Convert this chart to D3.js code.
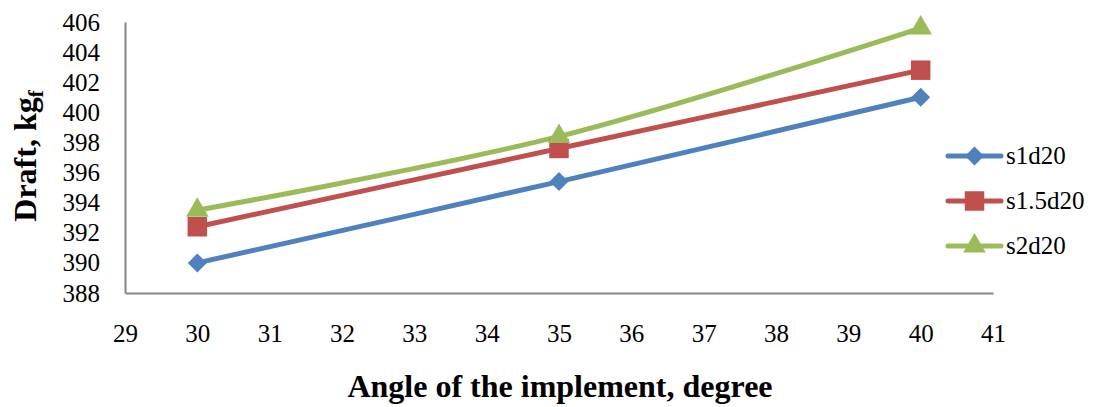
<!DOCTYPE html>
<html>
<head>
<meta charset="utf-8">
<script src="https://cdn.jsdelivr.net/npm/d3@7/dist/d3.min.js"></script>
<style>
  html, body { margin: 0; padding: 0; background: #fff; }
  svg { display: block; font-family: "Liberation Serif", "Times New Roman", serif; }
</style>
</head>
<body>
<svg id="chart" width="1108" height="407"></svg>
<script>
// Draft of the implement at three angles, one series per setting
const angles = [30, 35, 40];
const s1d20 = [390.0, 395.4, 401.0];
const s15d20 = [392.4, 397.6, 402.8];
const s2d20 = [393.5, 398.4, 405.6];
const seriesNames = ["s1d20", "s1.5d20", "s2d20"];
const xTicks = [29, 30, 31, 32, 33, 34, 35, 36, 37, 38, 39, 40, 41];
const yTicks = [388, 390, 392, 394, 396, 398, 400, 402, 404, 406];

// Diamond = square turned by 45 degrees
const series = [
  { name: seriesNames[0], values: s1d20, color: "#4F81BD", symbol: d3.symbolSquare, size: 180, rot: 45 },
  { name: seriesNames[1], values: s15d20, color: "#C0504D", symbol: d3.symbolSquare, size: 380, rot: 0 },
  { name: seriesNames[2], values: s2d20, color: "#9BBB59", symbol: d3.symbolTriangle, size: 220, rot: 0 }
];

const svg = d3.select("#chart");
const plotLeft = 125, plotRight = 993, plotTop = 22, plotBottom = 293;
const serif = "Liberation Serif, Times New Roman, serif";

const x = d3.scaleLinear().domain([29, 41]).range([plotLeft, plotRight]);
const y = d3.scaleLinear().domain([388, 406]).range([plotBottom, plotTop]);

// Axes: gray lines, no tick marks
const axisColor = "#868686";
const xAxis = svg.append("g").attr("transform", `translate(0,${plotBottom})`)
  .call(d3.axisBottom(x).tickValues(xTicks).tickSize(0).tickPadding(31).tickFormat(d3.format("d")));
xAxis.select(".domain").attr("stroke", axisColor).attr("stroke-width", 2);
xAxis.selectAll("text").attr("font-size", 25).attr("fill", "#000").attr("font-family", serif);

const yAxis = svg.append("g").attr("transform", `translate(${plotLeft},0)`)
  .call(d3.axisLeft(y).tickValues(yTicks).tickSize(0).tickPadding(25).tickFormat(d3.format("d")));
yAxis.select(".domain").attr("stroke", axisColor).attr("stroke-width", 2);
yAxis.selectAll("text").attr("font-size", 25).attr("fill", "#000").attr("font-family", serif);

// Smoothed series lines
const line = d3.line()
  .x((d, i) => x(angles[i]))
  .y(d => y(d))
  .curve(d3.curveCatmullRom.alpha(0));

const g = svg.append("g");
series.forEach(s => {
  g.append("path")
    .attr("d", line(s.values))
    .attr("fill", "none")
    .attr("stroke", s.color)
    .attr("stroke-width", 5)
    .attr("stroke-linejoin", "round");
});
series.forEach(s => {
  g.selectAll(null).data(s.values).enter().append("path")
    .attr("d", d3.symbol().type(s.symbol).size(s.size))
    .attr("transform", (d, i) => `translate(${x(angles[i])},${y(d)}) rotate(${s.rot})`)
    .attr("fill", s.color);
});

// Legend
const legend = svg.append("g");
series.forEach((s, i) => {
  const ly = 156 + i * 45;
  legend.append("line")
    .attr("x1", 948).attr("x2", 1001).attr("y1", ly).attr("y2", ly)
    .attr("stroke", s.color).attr("stroke-width", 5).attr("stroke-linecap", "round");
  legend.append("path")
    .attr("d", d3.symbol().type(s.symbol).size(s.size))
    .attr("transform", `translate(974.5,${ly}) rotate(${s.rot})`)
    .attr("fill", s.color);
  legend.append("text")
    .attr("x", 1006).attr("y", ly + 8)
    .attr("font-size", 25).attr("fill", "#000")
    .text(s.name);
});

// Axis titles
svg.append("text")
  .attr("x", 560).attr("y", 397)
  .attr("text-anchor", "middle")
  .attr("font-size", 32).attr("font-weight", "bold")
  .text("Angle of the implement, degree");

const yt = svg.append("text")
  .attr("transform", "translate(36,156) rotate(-90)")
  .attr("text-anchor", "middle")
  .attr("font-size", 32).attr("font-weight", "bold");
yt.append("tspan").text("Draft, kg");
yt.append("tspan").attr("font-size", 21).attr("dy", 7).text("f");
</script>
</body>
</html>
